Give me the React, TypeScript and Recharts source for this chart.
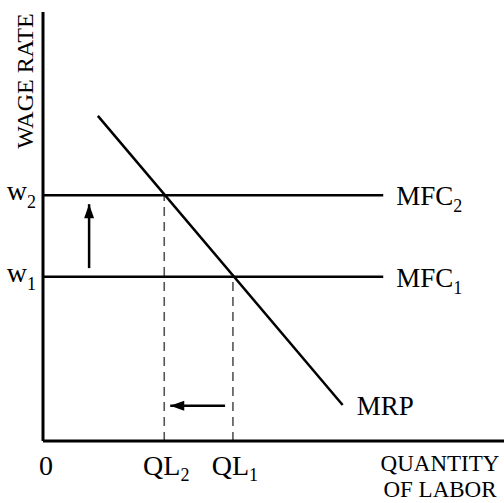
import { LineChart, Line, XAxis, YAxis, Label } from "recharts";

// positions along each axis, 0-100 scale
const wageLevels = [38.3, 57.3]; // w1, w2
const wageSubs = ["1", "2"];
const mfcSubs = ["1", "2"];
const mfcEnd = 73.8;
const quantityLevels = [41.2, 26.3]; // QL1, QL2
const quantitySubs = ["1", "2"];
const mrp = [
  { x: 11.9, y: 75.8 },
  { x: 65, y: 8.4 },
];
const upArrow = [
  { x: 10, y: 40.3 },
  { x: 10, y: 55.2 },
];
const leftArrow = [
  { x: 39.5, y: 8.2 },
  { x: 27.6, y: 8.2 },
];

const FONT = "'Liberation Serif', 'Times New Roman', serif";

const mfcLines = wageLevels.map((w) => [
  { x: 0, y: w },
  { x: mfcEnd, y: w },
]);
const dropLines = quantityLevels.map((q, i) => [
  { x: q, y: 0 },
  { x: q, y: wageLevels[i] },
]);

const xTicks = [0, quantityLevels[1], quantityLevels[0]];
const xTickText: Record<number, [string, string]> = {
  0: ["0", ""],
  [quantityLevels[0]]: ["QL", quantitySubs[0]],
  [quantityLevels[1]]: ["QL", quantitySubs[1]],
};

const XTick = (props: any) => {
  const { x, y, payload } = props;
  const [main, sub] = xTickText[payload.value] || ["", ""];
  return (
    <text x={x + (sub ? 2 : 3)} y={y + 26} textAnchor="middle" fontFamily={FONT} fontSize={28} fill="#000">
      {main}
      {sub && (
        <tspan fontSize={18} dy={6}>
          {sub}
        </tspan>
      )}
    </text>
  );
};

const YTick = (props: any) => {
  const { x, y, payload } = props;
  const i = wageLevels.indexOf(payload.value);
  return (
    <text x={x} y={y + 5} textAnchor="end" fontFamily={FONT} fontSize={28} fill="#000">
      w
      <tspan fontSize={18} dy={8}>
        {wageSubs[i]}
      </tspan>
    </text>
  );
};

const ArrowHead = (dir: "up" | "left") => (props: any) => {
  const { cx, cy, index } = props;
  if (index !== 1) return <g key={index} />;
  const pts =
    dir === "up"
      ? `${cx},${cy} ${cx - 5},${cy + 14} ${cx + 5},${cy + 14}`
      : `${cx},${cy} ${cx + 14},${cy - 5} ${cx + 14},${cy + 5}`;
  return <polygon key={index} points={pts} fill="#000" />;
};

const endLabel = (main: string, sub: string, dx: number, dy: number) => (props: any) => {
  const { x, y, index } = props;
  if (index !== 1) return <g key={index} />;
  return (
    <text key={index} x={x + dx} y={y + dy} fontFamily={FONT} fontSize={27} fill="#000">
      {main}
      {sub && (
        <tspan fontSize={18} dy={7}>
          {sub}
        </tspan>
      )}
    </text>
  );
};

export default function App() {
  return (
    <div style={{ position: "absolute", left: 0, top: 0, background: "#fff" }}>
      <LineChart width={504} height={503} margin={{ top: 12, right: 0, bottom: 0, left: 0 }}>
        <XAxis
          type="number"
          dataKey="x"
          domain={[0, 100]}
          ticks={xTicks}
          interval={0}
          tick={<XTick />}
          tickLine={false}
          tickSize={0}
          tickMargin={8}
          height={62}
          axisLine={{ stroke: "#000", strokeWidth: 3 }}
          allowDuplicatedCategory={false}
        >
          <Label
            content={(p: any) => {
              const vb = p.viewBox;
              return (
                <g fontFamily={FONT} fontSize={23} fill="#000">
                  <text x={vb.x + 397} y={vb.y + 30} textAnchor="middle">
                    QUANTITY
                  </text>
                  <text x={vb.x + 397} y={vb.y + 56} textAnchor="middle">
                    OF LABOR
                  </text>
                </g>
              );
            }}
          />
        </XAxis>
        <YAxis
          type="number"
          dataKey="y"
          domain={[0, 100]}
          ticks={wageLevels}
          interval={0}
          tick={<YTick />}
          tickLine={false}
          tickSize={0}
          tickMargin={7}
          width={43}
          axisLine={{ stroke: "#000", strokeWidth: 3 }}
        >
          <Label
            content={(p: any) => {
              const vb = p.viewBox;
              const cx = vb.x + 33;
              const cy = vb.y + 69;
              return (
                <text
                  x={cx}
                  y={cy}
                  transform={`rotate(-90, ${cx}, ${cy})`}
                  textAnchor="middle"
                  fontFamily={FONT}
                  fontSize={24}
                  fill="#000"
                >
                  WAGE RATE
                </text>
              );
            }}
          />
        </YAxis>
        {dropLines.map((d, i) => (
          <Line
            key={"drop" + i}
            data={d}
            dataKey="y"
            stroke="#555"
            strokeWidth={1.6}
            strokeDasharray="9 6"
            dot={false}
            activeDot={false}
            isAnimationActive={false}
          />
        ))}
        {mfcLines.map((d, i) => (
          <Line
            key={"mfc" + i}
            data={d}
            dataKey="y"
            stroke="#000"
            strokeWidth={2.5}
            dot={false}
            activeDot={false}
            label={endLabel("MFC", mfcSubs[i], 13, 10)}
            isAnimationActive={false}
          />
        ))}
        <Line
          data={mrp}
          dataKey="y"
          stroke="#000"
          strokeWidth={2.5}
          dot={false}
          activeDot={false}
          label={endLabel("MRP", "", 14, 10)}
          isAnimationActive={false}
        />
        <Line
          data={upArrow}
          dataKey="y"
          stroke="#000"
          strokeWidth={2.5}
          dot={ArrowHead("up")}
          activeDot={false}
          isAnimationActive={false}
        />
        <Line
          data={leftArrow}
          dataKey="y"
          stroke="#000"
          strokeWidth={2.5}
          dot={ArrowHead("left")}
          activeDot={false}
          isAnimationActive={false}
        />
      </LineChart>
    </div>
  );
}
